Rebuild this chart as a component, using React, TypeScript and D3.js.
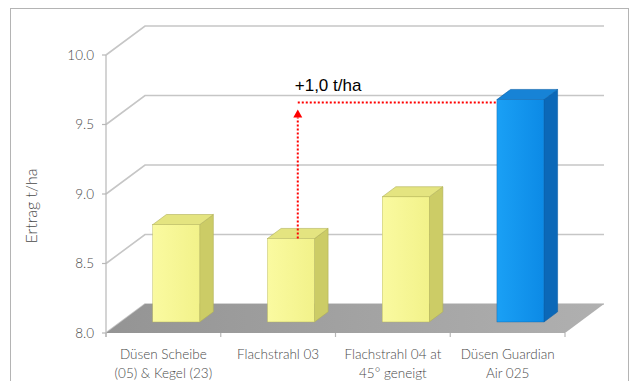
import React from "react";
import * as d3 from "d3";

const categories = ["Düsen Scheibe (05) & Kegel (23)", "Flachstrahl 03", "Flachstrahl 04 at 45° geneigt", "Düsen Guardian Air 025"];
const categoryLines = [["Düsen Scheibe", "(05) & Kegel (23)"], ["Flachstrahl 03"], ["Flachstrahl 04 at", "45° geneigt"], ["Düsen Guardian", "Air 025"]];
const yields = [8.7, 8.6, 8.9, 9.6];
const yTicks = [8.0, 8.5, 9.0, 9.5, 10.0];
const yLabel = "Ertrag t/ha";
const deltaLabel = "+1,0 t/ha";
const compareFrom = 1;
const compareTo = 3;
const highlighted = 3;

const W = 632, H = 381;
const X0 = 106, X1 = 565;
const DX = 39, DY = -29;
const BAR_W = 47;
const F0 = 0.38, FD = 0.35;

export default function App() {
  const y = d3.scaleLinear().domain([8, 10]).range([333, 55]);
  const x = d3.scaleBand<string>().domain(categories).range([X0, X1]).paddingInner(0).paddingOuter(0);
  const bw = x.bandwidth();
  const fdx = DX * F0, fdy = DY * F0;
  const bdx = DX * FD, bdy = DY * FD;
  const font = "Lato, 'Open Sans', sans-serif";

  const bars = yields.map((v, i) => {
    const c = categories[i];
    const left = (x(c) as number) + bw / 2 - BAR_W / 2 + fdx - 2;
    const right = left + BAR_W;
    const top = y(v) + fdy;
    const bottom = y(8) + fdy;
    return { i, v, left, right, top, bottom };
  });

  const blue = { front: "url(#blueFront)", side: "#0b68b8", top: "#1783d6", stroke: "#0a5fa8" };
  const yellow = { front: "url(#yelFront)", side: "#cccc66", top: "#e4e480", stroke: "#b0b058" };

  const bFrom = bars[compareFrom];
  const bTo = bars[compareTo];
  const arrowX = (bFrom.left + bFrom.right) / 2 + bdx / 2;
  const lineY = bTo.top + 3;
  const headTip = lineY + 7;
  const headBase = headTip + 8;

  return (
    <svg width={W} height={H} style={{ position: "absolute", left: 0, top: 0, background: "#fff" }}>
      <defs>
        <linearGradient id="floorGrad" x1="0" x2="1" y1="0" y2="0">
          <stop offset="0" stopColor="#949494" />
          <stop offset="1" stopColor="#b0b0b0" />
        </linearGradient>
        <linearGradient id="yelFront" x1="0" x2="1" y1="0" y2="0">
          <stop offset="0" stopColor="#fafaa0" />
          <stop offset="1" stopColor="#f2f28a" />
        </linearGradient>
        <linearGradient id="blueFront" x1="0" x2="1" y1="0" y2="0">
          <stop offset="0" stopColor="#1aa0f5" />
          <stop offset="1" stopColor="#0c8ae6" />
        </linearGradient>
      </defs>
      <rect x={10.5} y={8.5} width={618} height={380} fill="#fff" stroke="#b4b4b4" strokeWidth={1} />

      {yTicks.map((t) => (
        <polyline
          key={"g" + t}
          points={`${X0},${y(t)} ${X0 + DX},${y(t) + DY} ${X1 + DX},${y(t) + DY}`}
          fill="none"
          stroke="#c6c6c6"
          strokeWidth={1.6}
        />
      ))}

      <polygon
        points={`${X0},${y(8)} ${X1},${y(8)} ${X1 + DX},${y(8) + DY} ${X0 + DX},${y(8) + DY}`}
        fill="url(#floorGrad)"
      />

      <line x1={X0} x2={X0} y1={y(10)} y2={y(8) + 4} stroke="#b8b8b8" strokeWidth={1.2} />
      {yTicks.map((t) => (
        <g key={"t" + t}>
          <line x1={X0 - 4} x2={X0} y1={y(t)} y2={y(t)} stroke="#b8b8b8" strokeWidth={1.2} />
          <text x={X0 - 12} y={y(t)} dy="0.35em" textAnchor="end" fontFamily={font} fontWeight={300} fontSize={13.5} fill="#4a4a4a">
            {t.toFixed(1)}
          </text>
        </g>
      ))}
      {[...categories.map((c) => x(c) as number), X1].map((xx, i) => (
        <line key={"xt" + i} x1={xx} x2={xx} y1={y(8)} y2={y(8) + 4} stroke="#b8b8b8" strokeWidth={1.2} />
      ))}

      {bars.map((b) => {
        const col = b.i === highlighted ? blue : yellow;
        return (
          <g key={"b" + b.i}>
            <polygon
              points={`${b.right},${b.top} ${b.right + bdx},${b.top + bdy} ${b.right + bdx},${b.bottom + bdy} ${b.right},${b.bottom}`}
              fill={col.side}
              stroke={col.stroke}
              strokeWidth={0.6}
            />
            <polygon
              points={`${b.left},${b.top} ${b.left + bdx},${b.top + bdy} ${b.right + bdx},${b.top + bdy} ${b.right},${b.top}`}
              fill={col.top}
              stroke={col.stroke}
              strokeWidth={0.6}
            />
            <rect x={b.left} y={b.top} width={BAR_W} height={b.bottom - b.top} fill={col.front} stroke={col.stroke} strokeWidth={0.4} />
          </g>
        );
      })}

      {categoryLines.map((lines, i) => (
        <text key={"c" + i} textAnchor="middle" fontFamily={font} fontWeight={300} fontSize={13.5} fill="#4a4a4a">
          {lines.map((l, j) => (
            <tspan key={j} x={(x(categories[i]) as number) + bw / 2} y={359 + j * 19}>
              {l}
            </tspan>
          ))}
        </text>
      ))}

      <text
        transform={`translate(37,${206}) rotate(-90)`}
        textAnchor="middle"
        fontFamily={font}
        fontWeight={300}
        fontSize={16}
        fill="#4a4a4a"
      >
        {yLabel}
      </text>

      <line x1={arrowX} x2={arrowX} y1={bFrom.top} y2={headBase} stroke="#ff0000" strokeWidth={2} strokeDasharray="2,2" />
      <polygon points={`${arrowX},${headTip} ${arrowX - 4.5},${headBase} ${arrowX + 4.5},${headBase}`} fill="#ff0000" />
      <line x1={arrowX} x2={bTo.left} y1={lineY} y2={lineY} stroke="#ff0000" strokeWidth={2} strokeDasharray="2,2" />
      <text x={arrowX - 3} y={lineY - 12} fontFamily="'Liberation Sans', Arial, sans-serif" fontSize={17} fill="#000">
        {deltaLabel}
      </text>
    </svg>
  );
}
